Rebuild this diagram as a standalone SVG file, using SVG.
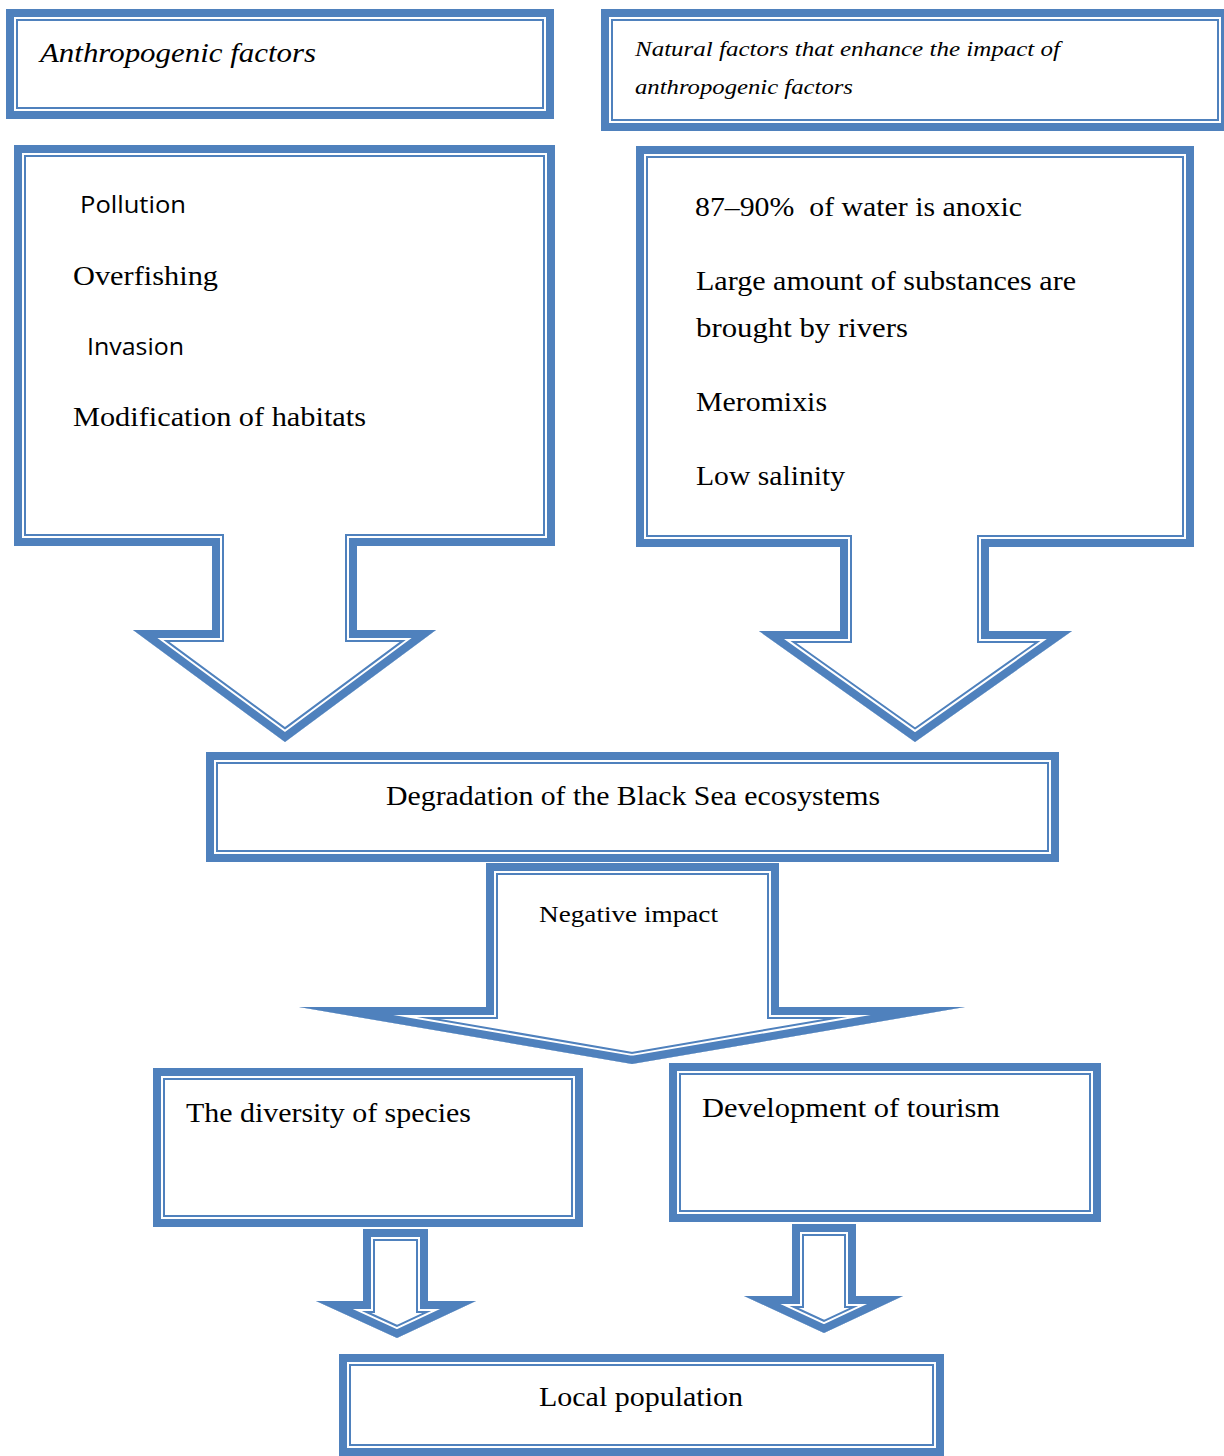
<svg xmlns="http://www.w3.org/2000/svg" xmlns:xlink="http://www.w3.org/1999/xlink" width="1224" height="1456" viewBox="0 0 1224 1456">
<style>
.b1{fill:#fff;stroke:#4F81BD;stroke-width:24;stroke-linejoin:miter;stroke-miterlimit:20}
.w{fill:none;stroke:#fff;stroke-width:20;stroke-linejoin:miter;stroke-miterlimit:20}
.b2{fill:none;stroke:#4F81BD;stroke-width:16;stroke-linejoin:miter;stroke-miterlimit:20}
.serif{font-family:"Liberation Serif","DejaVu Serif",serif;fill:#000}
.sans{font-family:"Open Sans","Liberation Sans",sans-serif;fill:#000}
.it{font-style:italic}
</style>
<defs>
<path id="s1" d="M6 9H554V119H6Z"/>
<path id="s2" d="M601 9H1229V131H601Z"/>
<path id="s3" d="M14 145H555V546H357V630H436L285 742L133 630H212V546H14Z"/>
<path id="s4" d="M636 146H1194V547H989V631H1072L915 742L759 631H840V547H636Z"/>
<path id="s5" d="M206 752H1059V862H206Z"/>
<path id="s6" d="M486 863H779V1007H965L632 1064L299 1007H486Z"/>
<path id="s7" d="M153 1068H583V1227H153Z"/>
<path id="s8" d="M669 1063H1101V1222H669Z"/>
<path id="s9" d="M339 1354H944V1456H339Z"/>
<path id="s10" d="M363 1229H428V1301H476L397 1338L316 1301H363Z"/>
<path id="s11" d="M792 1224H856V1296H903L824 1333L744 1296H792Z"/>
<clipPath id="c1"><use xlink:href="#s1"/></clipPath>
<clipPath id="c2"><use xlink:href="#s2"/></clipPath>
<clipPath id="c3"><use xlink:href="#s3"/></clipPath>
<clipPath id="c4"><use xlink:href="#s4"/></clipPath>
<clipPath id="c5"><use xlink:href="#s5"/></clipPath>
<clipPath id="c6"><use xlink:href="#s6"/></clipPath>
<clipPath id="c7"><use xlink:href="#s7"/></clipPath>
<clipPath id="c8"><use xlink:href="#s8"/></clipPath>
<clipPath id="c9"><use xlink:href="#s9"/></clipPath>
<clipPath id="c10"><use xlink:href="#s10"/></clipPath>
<clipPath id="c11"><use xlink:href="#s11"/></clipPath>
</defs>
<rect width="1224" height="1456" fill="#fff"/>

<g id="anthropogenic-factors">
<g clip-path="url(#c1)"><use xlink:href="#s1" class="b1"/><use xlink:href="#s1" class="w"/><use xlink:href="#s1" class="b2"/></g>
<text class="serif it" x="40" y="62" font-size="28" textLength="276" lengthAdjust="spacingAndGlyphs">Anthropogenic factors</text>
</g>

<g id="natural-factors">
<g clip-path="url(#c2)"><use xlink:href="#s2" class="b1"/><use xlink:href="#s2" class="w"/><use xlink:href="#s2" class="b2"/></g>
<text class="serif it" x="635" y="56" font-size="22" textLength="425" lengthAdjust="spacingAndGlyphs">Natural factors that enhance the impact of</text>
<text class="serif it" x="635" y="94" font-size="22" textLength="218" lengthAdjust="spacingAndGlyphs">anthropogenic factors</text>
</g>

<g id="anthropogenic-list">
<g clip-path="url(#c3)"><use xlink:href="#s3" class="b1"/><use xlink:href="#s3" class="w"/><use xlink:href="#s3" class="b2"/></g>
<text class="sans" x="80" y="213" font-size="24" textLength="106" lengthAdjust="spacingAndGlyphs">Pollution</text>
<text class="serif" x="73" y="285" font-size="27" textLength="145" lengthAdjust="spacingAndGlyphs">Overfishing</text>
<text class="sans" x="87" y="355" font-size="24" textLength="97" lengthAdjust="spacingAndGlyphs">Invasion</text>
<text class="serif" x="73" y="426" font-size="27" textLength="293" lengthAdjust="spacingAndGlyphs">Modification of habitats</text>
</g>

<g id="natural-list">
<g clip-path="url(#c4)"><use xlink:href="#s4" class="b1"/><use xlink:href="#s4" class="w"/><use xlink:href="#s4" class="b2"/></g>
<text class="serif" x="695" y="216" font-size="27" textLength="327" lengthAdjust="spacingAndGlyphs" xml:space="preserve">87–90%  of water is anoxic</text>
<text class="serif" x="696" y="290" font-size="27" textLength="380" lengthAdjust="spacingAndGlyphs">Large amount of substances are</text>
<text class="serif" x="696" y="337" font-size="27" textLength="212" lengthAdjust="spacingAndGlyphs">brought by rivers</text>
<text class="serif" x="696" y="411" font-size="27" textLength="131" lengthAdjust="spacingAndGlyphs">Meromixis</text>
<text class="serif" x="696" y="485" font-size="27" textLength="149" lengthAdjust="spacingAndGlyphs">Low salinity</text>
</g>

<g id="degradation">
<g clip-path="url(#c5)"><use xlink:href="#s5" class="b1"/><use xlink:href="#s5" class="w"/><use xlink:href="#s5" class="b2"/></g>
<text class="serif" x="386" y="805" font-size="27" textLength="494" lengthAdjust="spacingAndGlyphs">Degradation of the Black Sea ecosystems</text>
</g>

<g id="negative-impact">
<g clip-path="url(#c6)"><use xlink:href="#s6" class="b1"/><use xlink:href="#s6" class="w"/><use xlink:href="#s6" class="b2"/></g>
<text class="serif" x="539" y="922" font-size="23" textLength="179" lengthAdjust="spacingAndGlyphs">Negative impact</text>
</g>

<g id="diversity">
<g clip-path="url(#c7)"><use xlink:href="#s7" class="b1"/><use xlink:href="#s7" class="w"/><use xlink:href="#s7" class="b2"/></g>
<text class="serif" x="186" y="1122" font-size="27" textLength="285" lengthAdjust="spacingAndGlyphs">The diversity of species</text>
</g>

<g id="tourism">
<g clip-path="url(#c8)"><use xlink:href="#s8" class="b1"/><use xlink:href="#s8" class="w"/><use xlink:href="#s8" class="b2"/></g>
<text class="serif" x="702" y="1117" font-size="27" textLength="298" lengthAdjust="spacingAndGlyphs">Development of tourism</text>
</g>

<g id="local-population">
<g clip-path="url(#c9)"><use xlink:href="#s9" class="b1"/><use xlink:href="#s9" class="w"/><use xlink:href="#s9" class="b2"/></g>
<text class="serif" x="539" y="1406" font-size="27" textLength="204" lengthAdjust="spacingAndGlyphs">Local population</text>
</g>

<g id="connectors">
<g clip-path="url(#c10)"><use xlink:href="#s10" class="b1"/><use xlink:href="#s10" class="w"/><use xlink:href="#s10" class="b2"/></g>
<g clip-path="url(#c11)"><use xlink:href="#s11" class="b1"/><use xlink:href="#s11" class="w"/><use xlink:href="#s11" class="b2"/></g>
</g>
</svg>
